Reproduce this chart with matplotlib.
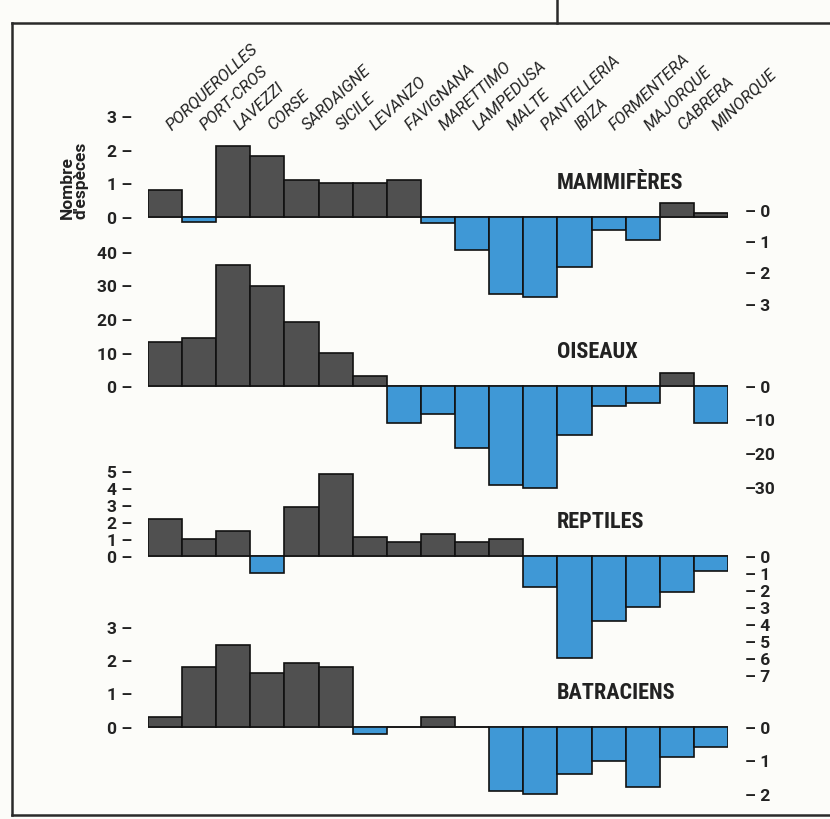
import matplotlib.pyplot as plt
import matplotlib.transforms as mtransforms
from matplotlib.lines import Line2D

islands = ['PORQUEROLLES', 'PORT-CROS', 'LAVEZZI', 'CORSE', 'SARDAIGNE', 'SICILE',
           'LEVANZO', 'FAVIGNANA', 'MARETTIMO', 'LAMPEDUSA', 'MALTE', 'PANTELLERIA',
           'IBIZA', 'FORMENTERA', 'MAJORQUE', 'CABRERA', 'MINORQUE']

mammiferes = [0.8, -0.15, 2.1, 1.8, 1.1, 1.0, 1.0, 1.1, -0.2, -1.0, -2.3, -2.4,
              -1.5, -0.4, -0.7, 0.4, 0.1]
oiseaux = [13, 14.3, 36, 30, 19, 10, 3, -11, -8.4, -18.5, -29.5, -30.5,
           -14.7, -5.9, -5.1, 4, -11]
reptiles = [2.2, 1.0, 1.5, -1.0, 2.9, 4.8, 1.1, 0.8, 1.3, 0.8, 1.0, -1.8,
            -6.0, -3.8, -3.0, -2.1, -0.9]
batraciens = [0.3, 1.8, 2.45, 1.6, 1.9, 1.8, -0.2, 0, 0.3, 0, -1.9, -2.0,
              -1.4, -1.0, -1.8, -0.9, -0.6]

mam_left = [0, 1, 2, 3]
mam_right = ['– 0', '– 1', '– 2', '– 3']
ois_left = [0, 10, 20, 30, 40]
ois_right = ['– 0', '–10', '–20', '–30']
rep_left = [0, 1, 2, 3, 4, 5]
rep_right = ['– 0', '– 1', '– 2', '– 3', '– 4', '– 5', '– 6', '– 7']
bat_left = [0, 1, 2, 3]
bat_right = ['– 0', '– 1', '– 2']

GRAY = '#505050'
BLUE = '#3f98d6'
INK = '#222222'
W, H = 830, 820
NARROW = ['Roboto Condensed', 'Liberation Sans Narrow', 'DejaVu Sans']
PLAIN = ['Roboto', 'DejaVu Sans']

fig = plt.figure(figsize=(8.3, 8.2), dpi=100)
fig.patch.set_facecolor('#fcfcf9')

# zero line (px), px per unit, ylim, step of right ticks
panels = [
    ('MAMMIFÈRES', mammiferes, mam_left, mam_right, 217.5, 33.5, (-2.6, 3.1), 1),
    ('OISEAUX', oiseaux, ois_left, ois_right, 387, 3.35, (-31, 41), 10),
    ('REPTILES', reptiles, rep_left, rep_right, 557, 17, (-7.3, 5.2), 1),
    ('BATRACIENS', batraciens, bat_left, bat_right, 728, 33.5, (-2.1, 3.1), 1),
]

axes = []
for name, vals, lticks, rlabels, zero, ppu, (y0, y1), step in panels:
    bottom = 1 - (zero - y0 * ppu) / H
    height = (y1 - y0) * ppu / H
    ax = fig.add_axes([148 / W, bottom, 580 / W, height])
    ax.patch.set_alpha(0)
    colors = [GRAY if v >= 0 else BLUE for v in vals]
    ax.bar(range(len(vals)), vals, width=1.0, color=colors, edgecolor='#111111',
           linewidth=1.2, zorder=3)
    ax.axhline(0, color='#333333', lw=1.1, zorder=2)
    ax.set_xlim(-0.5, len(vals) - 0.5)
    ax.set_ylim(y0, y1)
    ax.set_xticks([])
    ax.set_yticks(lticks, labels=[f'{t} –' for t in lticks])
    ax.tick_params(axis='y', length=0, pad=11.5, labelsize=12.5, labelcolor=INK)
    for lab in ax.get_yticklabels():
        lab.set_fontweight('bold')
        lab.set_family(PLAIN)
    for s in ax.spines.values():
        s.set_visible(False)

    ax2 = ax.twinx()
    ax2.set_ylim(y0, y1)
    ax2.set_yticks([-i * step for i in range(len(rlabels))], labels=rlabels)
    ax2.tick_params(axis='y', length=0, pad=12, labelsize=12.5, labelcolor=INK)
    for lab in ax2.get_yticklabels():
        lab.set_fontweight('bold')
        lab.set_family(PLAIN)
    for s in ax2.spines.values():
        s.set_visible(False)

    # group name, about 35 px above the zero line
    ax.annotate(name, xy=(0.705, 0), xycoords=mtransforms.blended_transform_factory(
        ax.transAxes, ax.transData), xytext=(0, 25), textcoords='offset points',
        fontsize=16, fontweight='bold', family=NARROW, color=INK,
        va='center', ha='left')
    axes.append(ax)

ax_m = axes[0]

# island names, rotated along the top
trans = mtransforms.blended_transform_factory(ax_m.transData, fig.transFigure)
for i, name in enumerate(islands):
    ax_m.text(i + 0.18, 1 - 131 / H, name, transform=trans, rotation=43,
              rotation_mode='anchor', ha='left', va='baseline', fontsize=12,
              style='italic', family=PLAIN, color=INK)

fig.text(60 / W, 1 - 180 / H, "Nombre\nd'espèces", rotation=90, ha='left',
         va='center', fontsize=12.5, fontweight='bold', family=PLAIN,
         color=INK, linespacing=0.85)

# frame of the printed figure
frame = dict(color='#2a2a2a', lw=1.8, transform=fig.transFigure)
fig.add_artist(Line2D([12 / W, 1], [1 - 24 / H, 1 - 24 / H], **frame))
fig.add_artist(Line2D([12 / W, 12 / W], [1 - 24 / H, 1 - 816 / H], **frame))
fig.add_artist(Line2D([12 / W, 1], [1 - 816 / H, 1 - 816 / H], **frame))
fig.add_artist(Line2D([557 / W, 557 / W], [1, 1 - 24 / H], **frame))

fig.savefig('out.png', dpi=100, facecolor=fig.get_facecolor())
